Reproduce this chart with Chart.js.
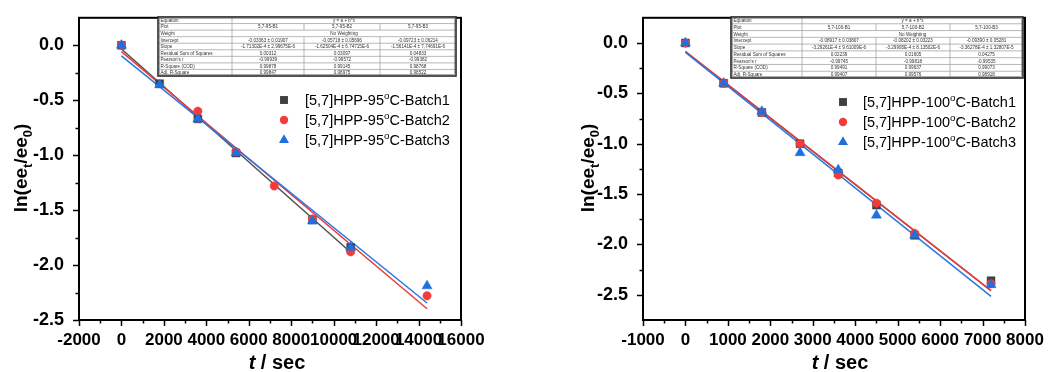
<!DOCTYPE html>
<html>
<head>
<meta charset="utf-8">
<script src="https://cdn.jsdelivr.net/npm/chart.js@4.4.1/dist/chart.umd.min.js"></script>
<style>
body { margin: 0; background: #fff; }
.panel { position: absolute; top: 0; width: 524px; height: 372px; }
</style>
</head>
<body>
<div class="panel" style="left:0"><canvas id="chart95" width="524" height="372"></canvas></div>
<div class="panel" style="left:524px"><canvas id="chart100" width="524" height="372"></canvas></div>
<script>
// ================= DATA : 95 C =================
const t95_b1 = [0, 1800, 3600, 5400, 9000, 10800];
const y95_b1 = [0, -0.35, -0.67, -0.98, -1.59, -1.84];
const t95_b2 = [0, 3600, 5400, 7200, 9000, 10800, 14400];
const y95_b2 = [0, -0.60, -0.97, -1.28, -1.58, -1.88, -2.28];
const t95_b3 = [0, 1800, 3600, 5400, 9000, 10800, 14400];
const y95_b3 = [0, -0.36, -0.67, -0.98, -1.60, -1.84, -2.19];

const labels95 = ["[5,7]HPP-95^{o}C-Batch1", "[5,7]HPP-95^{o}C-Batch2", "[5,7]HPP-95^{o}C-Batch3"];
const xTicks95 = [-2000, 0, 2000, 4000, 6000, 8000, 10000, 12000, 14000, 16000];
const yTicks95 = [0.0, -0.5, -1.0, -1.5, -2.0, -2.5];

// linear fit results (table in the plot)
const a95 = [-0.03363, -0.05718, -0.09723];
const b95 = [-1.71302e-4, -1.62504e-4, -1.56141e-4];
const fit95Plot = ["5,7-95-B1", "5,7-95-B2", "5,7-95-B3"];
const fit95Intercept = ["-0.03363 \u00b1 0.01907", "-0.05718 \u00b1 0.05696", "-0.09723 \u00b1 0.06214"];
const fit95Slope = ["-1.71302E-4 \u00b1 2.99675E-6", "-1.62504E-4 \u00b1 6.74715E-6", "-1.56141E-4 \u00b1 7.74691E-6"];
const fit95Rss = ["0.00312", "0.03097", "0.04833"];
const fit95Pearson = ["-0.99939", "-0.99572", "-0.99382"];
const fit95R2 = ["0.99878", "0.99145", "0.98768"];
const fit95AdjR2 = ["0.99847", "0.98975", "0.98522"];

// ================= DATA : 100 C =================
const t100 = [0, 900, 1800, 2700, 3600, 4500, 5400, 7200];
const y100_b1 = [0, -0.40, -0.69, -1.00, -1.29, -1.61, -1.91, -2.36];
const y100_b2 = [0, -0.40, -0.69, -1.00, -1.31, -1.59, -1.89, -2.39];
const y100_b3 = [0, -0.40, -0.68, -1.09, -1.26, -1.71, -1.91, -2.40];

const labels100 = ["[5,7]HPP-100^{o}C-Batch1", "[5,7]HPP-100^{o}C-Batch2", "[5,7]HPP-100^{o}C-Batch3"];
const xTicks100 = [-1000, 0, 1000, 2000, 3000, 4000, 5000, 6000, 7000, 8000];
const yTicks100 = [0.0, -0.5, -1.0, -1.5, -2.0, -2.5];

const a100 = [-0.08917, -0.08202, -0.09390];
const b100 = [-3.29261e-4, -3.29995e-4, -3.36278e-4];
const fit100Plot = ["5,7-100-B1", "5,7-100-B2", "5,7-100-B3"];
const fit100Intercept = ["-0.08917 \u00b1 0.03807", "-0.08202 \u00b1 0.03223", "-0.09390 \u00b1 0.05281"];
const fit100Slope = ["-3.29261E-4 \u00b1 9.61009E-6", "-3.29995E-4 \u00b1 8.13502E-6", "-3.36278E-4 \u00b1 1.32807E-5"];
const fit100Rss = ["0.02239", "0.01605", "0.04275"];
const fit100Pearson = ["-0.99745", "-0.99818", "-0.99535"];
const fit100R2 = ["0.99491", "0.99637", "0.99073"];
const fit100AdjR2 = ["0.99407", "0.99576", "0.98918"];

const fitEquation = "y = a + b*x";
const fitWeight = "No Weighting";

const FONT = '"Liberation Sans", Arial, Helvetica, sans-serif';
Chart.defaults.font.family = FONT;

const seriesStyle = [
    { shape: "rect", color: "#404040", line: "#505050", r: 5.6 },
    { shape: "circle", color: "#f23c3c", line: "#ee3a3a", r: 4.2 },
    { shape: "triangle", color: "#1f6fe0", line: "#2a78e2", r: 5.8 }
];

function toPoints(xs, ys) {
    return xs.map((x, i) => ({ x: x, y: ys[i] }));
}

// fit line y = a + b*x from 0 to last time
function fitLine(xs, a, b) {
    const xEnd = Math.max(...xs);
    return [{ x: 0, y: a }, { x: xEnd, y: a + b * xEnd }];
}

function midpoints(arr) {
    const out = [];
    for (let i = 0; i < arr.length - 1; i++) out.push((arr[i] + arr[i + 1]) / 2);
    return out;
}

// ================= TEXT HELPERS =================
// ^{..} superscript, _{..} subscript, *{..} italic
function richParts(str) {
    const parts = [];
    const re = /([\^_*])\{([^}]*)\}/g;
    let last = 0, m;
    while ((m = re.exec(str))) {
        if (m.index > last) parts.push({ t: str.slice(last, m.index), k: "" });
        parts.push({ t: m[2], k: m[1] });
        last = re.lastIndex;
    }
    if (last < str.length) parts.push({ t: str.slice(last), k: "" });
    return parts;
}

function partFont(p, size, weight) {
    const s = (p.k === "^" || p.k === "_") ? size * 0.68 : size;
    return (p.k === "*" ? "italic " : "") + weight + " " + s + "px " + FONT;
}

function drawRich(ctx, str, x, y, size, weight, align) {
    const parts = richParts(str);
    let total = 0;
    parts.forEach(p => {
        ctx.font = partFont(p, size, weight);
        p.w = ctx.measureText(p.t).width;
        total += p.w;
    });
    let cx = align === "center" ? x - total / 2 : x;
    ctx.textAlign = "left";
    ctx.textBaseline = "alphabetic";
    parts.forEach(p => {
        ctx.font = partFont(p, size, weight);
        let dy = 0;
        if (p.k === "^") dy = -size * 0.42;
        if (p.k === "_") dy = size * 0.24;
        ctx.fillText(p.t, cx, y + dy);
        cx += p.w;
    });
}

function drawMarker(ctx, shape, x, y, r, color) {
    ctx.fillStyle = color;
    ctx.beginPath();
    if (shape === "rect") {
        const s = r * Math.SQRT1_2;
        ctx.rect(x - s, y - s, 2 * s, 2 * s);
    } else if (shape === "circle") {
        ctx.arc(x, y, r, 0, Math.PI * 2);
    } else {
        ctx.moveTo(x, y - r);
        ctx.lineTo(x + r * Math.sin(Math.PI * 2 / 3), y + r * 0.5);
        ctx.lineTo(x - r * Math.sin(Math.PI * 2 / 3), y + r * 0.5);
        ctx.closePath();
    }
    ctx.fill();
}

// ================= FIT TABLE =================
function drawFitTable(ctx, box, fit) {
    const rows = [
        ["Equation", [fitEquation]],
        ["Plot", fit.plot],
        ["Weight", [fitWeight]],
        ["Intercept", fit.intercept],
        ["Slope", fit.slope],
        ["Residual Sum of Squares", fit.rss],
        ["Pearson's r", fit.pearson],
        ["R-Square (COD)", fit.r2],
        ["Adj. R-Square", fit.adjr2]
    ];
    const rowH = box.h / rows.length;
    const colX = [box.x];
    box.cols.forEach(w => colX.push(colX[colX.length - 1] + w));

    ctx.fillStyle = "#fff";
    ctx.fillRect(box.x, box.y, box.w, box.h);

    // grid
    ctx.strokeStyle = "#9a9a9a";
    ctx.lineWidth = 0.7;
    ctx.beginPath();
    for (let r = 1; r < rows.length; r++) {
        const yy = box.y + r * rowH;
        ctx.moveTo(box.x, yy); ctx.lineTo(box.x + box.w, yy);
    }
    rows.forEach((row, r) => {
        const y0 = box.y + r * rowH;
        const n = row[1].length === 1 ? 2 : colX.length - 1;
        for (let c = 1; c < n; c++) {
            ctx.moveTo(colX[c], y0); ctx.lineTo(colX[c], y0 + rowH);
        }
    });
    ctx.stroke();

    // text
    ctx.fillStyle = "#333";
    ctx.font = "4.6px " + FONT;
    ctx.textBaseline = "middle";
    rows.forEach((row, r) => {
        const yc = box.y + r * rowH + rowH / 2 + 0.3;
        ctx.textAlign = "left";
        ctx.fillText(row[0], box.x + 2.5, yc);
        ctx.textAlign = "center";
        if (row[1].length === 1) {
            ctx.fillText(row[1][0], (colX[1] + colX[colX.length - 1]) / 2, yc);
        } else {
            row[1].forEach((txt, c) => ctx.fillText(txt, (colX[c + 1] + colX[c + 2]) / 2, yc));
        }
    });

    // double outer border
    ctx.strokeStyle = "#2a2a2a";
    ctx.lineWidth = 1.6;
    ctx.strokeRect(box.x, box.y, box.w, box.h);
    ctx.strokeStyle = "#777";
    ctx.lineWidth = 0.6;
    ctx.strokeRect(box.x + 1.6, box.y + 1.6, box.w - 3.2, box.h - 3.2);
}

// ================= CHART =================
function makeChart(id, cfg) {

    const overlay = {
        id: "overlay_" + id,
        afterDatasetsDraw(chart) {
            const ctx = chart.ctx;
            const area = chart.chartArea;
            const xs = chart.scales.x, ys = chart.scales.y;
            ctx.save();

            // frame
            ctx.strokeStyle = "#000";
            ctx.lineWidth = 2;
            ctx.strokeRect(area.left, area.top, area.right - area.left, area.bottom - area.top);

            // outward ticks
            ctx.lineWidth = 1.5;
            ctx.beginPath();
            cfg.xTicks.forEach(v => {
                const px = Math.round(xs.getPixelForValue(v)) + 0.5;
                ctx.moveTo(px, area.bottom); ctx.lineTo(px, area.bottom + 6);
            });
            midpoints(cfg.xTicks).forEach(v => {
                const px = Math.round(xs.getPixelForValue(v)) + 0.5;
                ctx.moveTo(px, area.bottom); ctx.lineTo(px, area.bottom + 3.5);
            });
            cfg.yTicks.forEach(v => {
                const py = Math.round(ys.getPixelForValue(v)) + 0.5;
                ctx.moveTo(area.left, py); ctx.lineTo(area.left - 6, py);
            });
            midpoints(cfg.yTicks).forEach(v => {
                const py = Math.round(ys.getPixelForValue(v)) + 0.5;
                ctx.moveTo(area.left, py); ctx.lineTo(area.left - 3.5, py);
            });
            ctx.stroke();

            // axis titles
            ctx.fillStyle = "#000";
            drawRich(ctx, "*{t} / sec", cfg.xTitle.x, cfg.xTitle.y, 20, "bold", "center");
            ctx.save();
            ctx.translate(cfg.yTitle.x, cfg.yTitle.y);
            ctx.rotate(-Math.PI / 2);
            drawRich(ctx, "ln(ee_{t}/ee_{0})", 0, 0, 19, "bold", "center");
            ctx.restore();

            // legend
            cfg.labels.forEach((lab, i) => {
                const yy = cfg.legend.y + i * cfg.legend.dy;
                const st = seriesStyle[i];
                drawMarker(ctx, st.shape, cfg.legend.mx, yy, st.r, st.color);
                ctx.fillStyle = "#000";
                drawRich(ctx, lab, cfg.legend.tx, yy + 5.2, 14.5, "normal", "left");
            });

            drawFitTable(ctx, cfg.table, cfg.fit);
            ctx.restore();
        }
    };

    const pointSets = cfg.series.map((s, i) => ({
        label: cfg.labels[i],
        data: toPoints(s.x, s.y),
        pointStyle: seriesStyle[i].shape,
        pointRadius: seriesStyle[i].r,
        backgroundColor: seriesStyle[i].color,
        borderColor: seriesStyle[i].color,
        borderWidth: 0.5,
        showLine: false,
        order: 3 - i
    }));

    const lineSets = cfg.series.map((s, i) => ({
        label: "fit " + (i + 1),
        data: fitLine(s.x, cfg.a[i], cfg.b[i]),
        showLine: true,
        pointRadius: 0,
        borderColor: seriesStyle[i].line,
        borderWidth: 1.5,
        order: 10 - i
    }));

    return new Chart(document.getElementById(id), {
        type: "scatter",
        data: { datasets: pointSets.concat(lineSets) },
        options: {
            responsive: false,
            devicePixelRatio: 1,
            animation: false,
            events: [],
            layout: { padding: { top: 13, right: cfg.padRight, bottom: 0, left: 0 } },
            plugins: { legend: { display: false }, tooltip: { enabled: false } },
            scales: {
                x: {
                    type: "linear",
                    min: cfg.xTicks[0],
                    max: cfg.xTicks[cfg.xTicks.length - 1],
                    afterBuildTicks: sc => { sc.ticks = cfg.xTicks.map(v => ({ value: v })); },
                    afterFit: sc => { sc.height = 52; },
                    grid: { display: false },
                    border: { display: false },
                    ticks: {
                        autoSkip: false, maxRotation: 0, minRotation: 0, padding: 2,
                        color: "#000", font: { size: 17, weight: "bold" },
                        callback: v => String(v)
                    }
                },
                y: {
                    type: "linear",
                    min: cfg.yMin,
                    max: 0.25,
                    afterBuildTicks: sc => { sc.ticks = cfg.yTicks.map(v => ({ value: v })); },
                    afterFit: sc => { sc.width = cfg.yWidth; },
                    grid: { display: false },
                    border: { display: false },
                    ticks: {
                        autoSkip: false, padding: 7,
                        color: "#000", font: { size: 18, weight: "bold" },
                        callback: v => v.toFixed(1)
                    }
                }
            }
        },
        plugins: [overlay]
    });
}

makeChart("chart95", {
    series: [{ x: t95_b1, y: y95_b1 }, { x: t95_b2, y: y95_b2 }, { x: t95_b3, y: y95_b3 }],
    labels: labels95,
    a: a95, b: b95,
    xTicks: xTicks95, yTicks: yTicks95, yMin: -2.5,
    yWidth: 79, padRight: 63,
    xTitle: { x: 277, y: 369 },
    yTitle: { x: 27, y: 168 },
    legend: { mx: 284, tx: 305, y: 100, dy: 20 },
    table: { x: 158, y: 17, w: 298, h: 59, cols: [74, 72, 76, 76] },
    fit: { plot: fit95Plot, intercept: fit95Intercept, slope: fit95Slope, rss: fit95Rss,
           pearson: fit95Pearson, r2: fit95R2, adjr2: fit95AdjR2 }
});

makeChart("chart100", {
    series: [{ x: t100, y: y100_b1 }, { x: t100, y: y100_b2 }, { x: t100, y: y100_b3 }],
    labels: labels100,
    a: a100, b: b100,
    xTicks: xTicks100, yTicks: yTicks100, yMin: -2.75,
    yWidth: 119, padRight: 23,
    xTitle: { x: 316, y: 369 },
    yTitle: { x: 70, y: 168 },
    legend: { mx: 319, tx: 339, y: 102, dy: 20 },
    table: { x: 207, y: 17, w: 292, h: 61, cols: [71, 74, 74, 73] },
    fit: { plot: fit100Plot, intercept: fit100Intercept, slope: fit100Slope, rss: fit100Rss,
           pearson: fit100Pearson, r2: fit100R2, adjr2: fit100AdjR2 }
});
</script>
</body>
</html>
